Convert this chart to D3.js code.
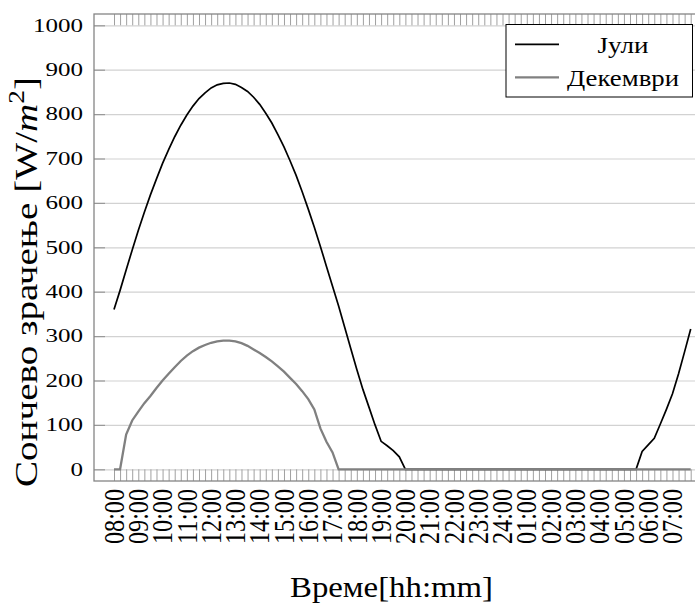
<!DOCTYPE html>
<html>
<head>
<meta charset="utf-8">
<script src="https://cdnjs.cloudflare.com/ajax/libs/d3/7.8.5/d3.min.js"></script>
</head>
<body style="margin:0; background:#fff">
<div id="chart"></div>
<script>
// hour labels, one every 4 quarter-hour samples
var hourLabels = ["08:00", "09:00", "10:00", "11:00", "12:00", "13:00", "14:00", "15:00",
  "16:00", "17:00", "18:00", "19:00", "20:00", "21:00", "22:00", "23:00", "24:00",
  "01:00", "02:00", "03:00", "04:00", "05:00", "06:00", "07:00"];

var yTicks = [0, 100, 200, 300, 400, 500, 600, 700, 800, 900, 1000];

var seriesNames = ["Јули", "Декември"];

// W/m^2 every 15 minutes from 08:00 to 07:45
var july = [
  360, 403, 449, 494, 538, 579, 618, 654, 689, 720, 749, 775, 798, 818, 835, 848,
  859, 866, 869, 870, 867, 860, 851, 838, 822, 802, 780, 754, 726, 695, 662, 625,
  586, 545, 502, 457, 412, 368, 320, 272, 225, 180, 140, 100, 63, 53, 42, 28,
  0, 0, 0, 0, 0, 0, 0, 0, 0, 0, 0, 0, 0, 0, 0, 0,
  0, 0, 0, 0, 0, 0, 0, 0, 0, 0, 0, 0, 0, 0, 0, 0,
  0, 0, 0, 0, 0, 0, 0, 40, 55, 70, 102, 135, 170, 215, 265, 316
];

var december = [
  0, 0, 78, 110, 130, 149, 165, 183, 200, 215, 230, 244, 256, 266, 274, 280,
  285, 288, 290, 290, 288, 284, 278, 270, 262, 253, 243, 232, 220, 206, 192, 176,
  158, 135, 92, 62, 38, 0, 0, 0, 0, 0, 0, 0, 0, 0, 0, 0,
  0, 0, 0, 0, 0, 0, 0, 0, 0, 0, 0, 0, 0, 0, 0, 0,
  0, 0, 0, 0, 0, 0, 0, 0, 0, 0, 0, 0, 0, 0, 0, 0,
  0, 0, 0, 0, 0, 0, 0, 0, 0, 0, 0, 0, 0, 0, 0, 0
];

var width = 695, height = 603;
var serif = "'Liberation Serif', 'Times New Roman', serif";
// plot frame (right side runs past the picture, as in the original)
var frameL = 94, frameT = 14, frameR = 712, frameB = 481;

function draw() {
  var x = d3.scaleLinear().domain([0, july.length - 1]).range([114, 690.7]);
  var y = d3.scaleLinear().domain([0, 1000]).range([469.3, 25.3]);

  var svg = d3.select("#chart").append("svg")
    .attr("width", width)
    .attr("height", height)
    .style("font-family", serif);

  svg.append("rect").attr("width", width).attr("height", height).attr("fill", "#fff");

  // horizontal grid
  svg.append("g")
    .attr("transform", "translate(" + frameL + ",0)")
    .call(d3.axisLeft(y).tickValues(yTicks).tickSize(-(frameR - frameL)).tickFormat(""))
    .call(function(g) {
      g.select(".domain").remove();
      g.selectAll(".tick line").attr("stroke", "#d2d2d2").attr("stroke-width", 1.2);
    });

  // short y ticks inside the frame
  svg.append("g")
    .attr("transform", "translate(" + frameL + ",0)")
    .call(d3.axisLeft(y).tickValues(yTicks).tickSize(-11).tickFormat(""))
    .call(function(g) {
      g.select(".domain").remove();
      g.selectAll(".tick line").attr("stroke", "#999").attr("stroke-width", 1.2);
    });

  // quarter-hour ticks, bottom and top
  svg.append("g")
    .attr("transform", "translate(0," + frameB + ")")
    .call(d3.axisBottom(x).tickValues(d3.range(july.length)).tickSize(-(frameB - y(0))).tickFormat(""))
    .call(function(g) {
      g.select(".domain").remove();
      g.selectAll(".tick line").attr("stroke", "#a0a0a0").attr("stroke-width", 1);
    });

  svg.append("g")
    .attr("transform", "translate(0," + frameT + ")")
    .call(d3.axisTop(x).tickValues(d3.range(july.length)).tickSize(-(y(1000) - frameT)).tickFormat(""))
    .call(function(g) {
      g.select(".domain").remove();
      g.selectAll(".tick line").attr("stroke", "#a0a0a0").attr("stroke-width", 1);
    });

  // frame
  svg.append("rect")
    .attr("x", frameL).attr("y", frameT)
    .attr("width", frameR - frameL).attr("height", frameB - frameT)
    .attr("fill", "none")
    .attr("stroke", "#858585")
    .attr("stroke-width", 1.3);

  // lines
  var line = d3.line()
    .x(function(d, i) { return x(i); })
    .y(function(d) { return y(d); });

  svg.append("path")
    .datum(july)
    .attr("d", line)
    .attr("fill", "none")
    .attr("stroke", "#000")
    .attr("stroke-width", 1.7);

  svg.append("path")
    .datum(december)
    .attr("d", line)
    .attr("fill", "none")
    .attr("stroke", "#808080")
    .attr("stroke-width", 2.3);

  // y tick labels
  svg.selectAll(".ylab")
    .data(yTicks)
    .enter().append("text")
    .attr("class", "ylab")
    .style("font-family", serif)
    .attr("x", 83)
    .attr("y", function(d) { return y(d) + 6.3; })
    .attr("text-anchor", "end")
    .attr("font-size", 18.6)
    .attr("textLength", function(d) { return String(d).length * 12.5; })
    .attr("lengthAdjust", "spacingAndGlyphs")
    .text(function(d) { return d; });

  // x tick labels, rotated
  svg.selectAll(".xlab")
    .data(hourLabels)
    .enter().append("text")
    .attr("class", "xlab")
    .style("font-family", serif)
    .attr("transform", function(d, i) {
      return "translate(" + x(i * 4) + ",489) rotate(-90)";
    })
    .attr("dy", "0.34em")
    .attr("text-anchor", "end")
    .attr("font-size", 28.5)
    .attr("textLength", 55)
    .attr("lengthAdjust", "spacingAndGlyphs")
    .text(function(d) { return d; });

  // axis titles
  svg.append("text")
    .style("font-family", serif)
    .attr("x", 290)
    .attr("y", 597)
    .attr("font-size", 30)
    .attr("textLength", 203)
    .attr("lengthAdjust", "spacingAndGlyphs")
    .text("Време[hh:mm]");

  var yTitle = svg.append("text")
    .style("font-family", serif)
    .attr("font-size", 32);
  yTitle.append("tspan").text("Сончево зрачење [W/");
  yTitle.append("tspan").attr("font-style", "italic").text("m");
  yTitle.append("tspan").attr("font-size", "70%").attr("dy", "-0.6em").text("2");
  yTitle.append("tspan").attr("dy", "0.42em").text("]");
  var titleLen = yTitle.node().getComputedTextLength();
  yTitle.attr("transform", "translate(37,487) rotate(-90) scale(" + (410 / titleLen) + ",1)");

  // legend
  var legend = svg.append("g");
  legend.append("rect")
    .attr("x", 506).attr("y", 24.5)
    .attr("width", 186.5).attr("height", 72.5)
    .attr("fill", "#fff")
    .attr("stroke", "#000")
    .attr("stroke-width", 1);

  var legendColors = ["#000", "#808080"];
  var legendWidths = [1.7, 2.3];
  var legendLen = [51, 112];
  seriesNames.forEach(function(name, i) {
    var ly = 44.3 + i * 33;
    legend.append("line")
      .attr("x1", 515).attr("x2", 559)
      .attr("y1", ly).attr("y2", ly)
      .attr("stroke", legendColors[i])
      .attr("stroke-width", legendWidths[i]);
    legend.append("text")
      .style("font-family", serif)
      .attr("x", 623)
      .attr("y", ly + 8.5)
      .attr("text-anchor", "middle")
      .attr("font-size", 22.5)
      .attr("textLength", legendLen[i])
      .attr("lengthAdjust", "spacingAndGlyphs")
      .text(name);
  });
}

// make sure the serif face is resolved before measuring text
if (document.fonts && document.fonts.load) {
  document.fonts.load("30px 'Liberation Serif'", "Време 0").then(draw, draw);
} else {
  draw();
}
</script>
</body>
</html>
